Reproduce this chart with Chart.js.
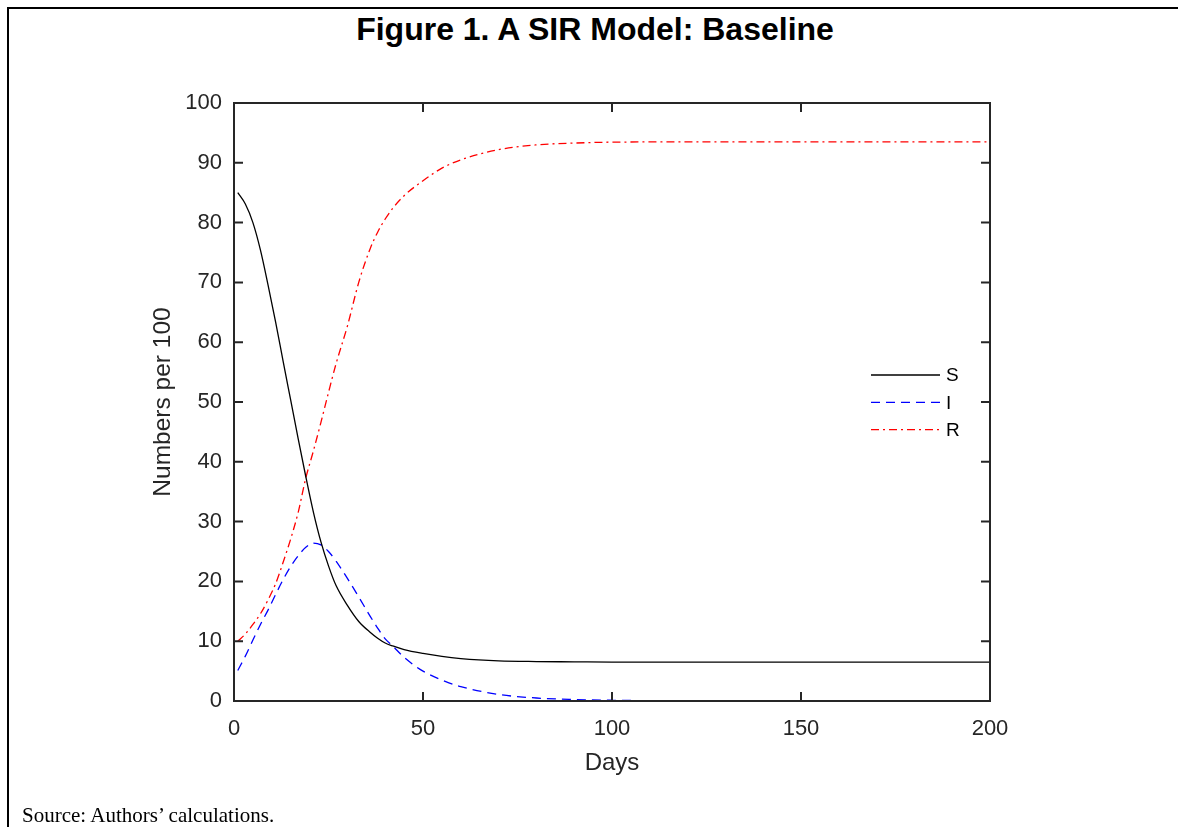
<!DOCTYPE html>
<html>
<head>
<meta charset="utf-8">
<script src="https://cdn.jsdelivr.net/npm/chart.js@4/dist/chart.umd.min.js"></script>
<style>
  html, body { margin: 0; padding: 0; background: #fff; }
  body { width: 1178px; height: 827px; position: relative; overflow: hidden; }
  #frameTop { position: absolute; left: 7px; top: 7px; width: 1171px; height: 2px; background: #000; }
  #frameLeft { position: absolute; left: 7px; top: 7px; width: 2px; height: 820px; background: #000; }
  #title { position: absolute; left: 0; top: 11px; width: 1190px; text-align: center;
           font: bold 32px Arial, "Liberation Sans", sans-serif; color: #000; }
  #source { position: absolute; left: 22px; top: 803px; font: 21px "Times New Roman", "Liberation Serif", serif; color: #000; }
  #wrap { position: absolute; left: 0; top: 0; width: 1178px; height: 827px; }
</style>
</head>
<body>
<div id="frameTop"></div>
<div id="frameLeft"></div>
<div id="title">Figure 1. A SIR Model: Baseline</div>
<div id="wrap"><canvas id="sir" width="1178" height="827"></canvas></div>
<div id="source">Source: Authors’ calculations.</div>

<script>
// values
const days = [1, 3, 5, 7, 9, 11, 13, 15, 17, 19, 21, 23, 25, 27, 30, 33, 36, 38, 40, 42, 45, 50, 55, 60, 70, 80, 90, 100, 120, 150, 200];
const susceptible = [85, 83.1, 80.0, 75.4, 69.6, 63.4, 56.8, 50.3, 43.8, 37.5, 31.6, 26.6, 22.6, 19.3, 16, 13.3, 11.5, 10.5, 9.7, 9.2, 8.6, 7.95, 7.45, 7.1, 6.72, 6.6, 6.55, 6.5, 6.5, 6.5, 6.5];
const infected = [5.1, 7.5, 10.2, 12.8, 15.2, 17.8, 20.3, 22.5, 24.3, 25.7, 26.4, 26.1, 25.0, 23.4, 20.5, 17.4, 14.2, 12.2, 10.4, 9.2, 7.3, 5.0, 3.5, 2.4, 1.1, 0.5, 0.25, 0.12, 0.03, 0, 0];
const recovered = [10, 11.2, 12.8, 14.6, 16.9, 19.6, 23.2, 27.1, 31.6, 37.3, 41.8, 46.6, 51.6, 56.4, 62.7, 70.0, 75.6, 78.4, 80.6, 82.4, 84.5, 87, 89.1, 90.5, 92.2, 93, 93.3, 93.45, 93.5, 93.5, 93.5];
const seriesNames = ["S", "I", "R"];
const xTicks = [0, 50, 100, 150, 200];

const axisColor = "#262626";
const font = 'Arial, "Liberation Sans", sans-serif';

function pts(vals) {
  return days.map((d, i) => ({ x: d, y: vals[i] }));
}

// MATLAB style box with inward ticks on all four sides
const boxPlugin = {
  id: "box",
  afterDatasetsDraw(chart) {
    const { ctx, chartArea: a, scales } = chart;
    const len = 9;
    ctx.save();
    ctx.strokeStyle = axisColor;
    ctx.lineWidth = 2;
    ctx.strokeRect(a.left, a.top, a.right - a.left, a.bottom - a.top);
    ctx.beginPath();
    scales.x.ticks.forEach(t => {
      const px = scales.x.getPixelForValue(t.value);
      ctx.moveTo(px, a.bottom); ctx.lineTo(px, a.bottom - len);
      ctx.moveTo(px, a.top); ctx.lineTo(px, a.top + len);
    });
    scales.y.ticks.forEach(t => {
      const py = scales.y.getPixelForValue(t.value);
      ctx.moveTo(a.left, py); ctx.lineTo(a.left + len, py);
      ctx.moveTo(a.right, py); ctx.lineTo(a.right - len, py);
    });
    ctx.stroke();
    ctx.restore();
  }
};

// legend drawn inside the axes, no box
const legendPlugin = {
  id: "inlineLegend",
  afterDatasetsDraw(chart) {
    const { ctx, chartArea: a } = chart;
    ctx.save();
    ctx.font = "19px " + font;
    ctx.textBaseline = "middle";
    ctx.fillStyle = "#000";
    chart.data.datasets.forEach((ds, i) => {
      const y = a.top + 272 + i * 27.3;
      ctx.strokeStyle = ds.borderColor;
      ctx.lineWidth = ds.borderWidth;
      ctx.setLineDash(ds.borderDash || []);
      ctx.beginPath();
      ctx.moveTo(a.right - 119, y);
      ctx.lineTo(a.right - 50, y);
      ctx.stroke();
      ctx.fillText(ds.label, a.right - 44, y + 1);
    });
    ctx.restore();
  }
};

new Chart(document.getElementById("sir"), {
  type: "line",
  data: {
    datasets: [
      { label: seriesNames[0], data: pts(susceptible), borderColor: "#000000", borderWidth: 1.3, borderDash: [] },
      { label: seriesNames[1], data: pts(infected), borderColor: "#0000ff", borderWidth: 1.3, borderDash: [9, 6] },
      { label: seriesNames[2], data: pts(recovered), borderColor: "#ff0000", borderWidth: 1.3, borderDash: [8, 4, 2, 4] }
    ]
  },
  options: {
    responsive: false,
    devicePixelRatio: 1,
    animation: false,
    elements: {
      point: { radius: 0 },
      line: { cubicInterpolationMode: "monotone", fill: false }
    },
    layout: { padding: { left: 140, right: 188, top: 103, bottom: 0 } },
    plugins: {
      legend: { display: false },
      tooltip: { enabled: false },
      title: { display: false }
    },
    scales: {
      x: {
        type: "linear",
        min: 0, max: 200,
        afterBuildTicks: s => { s.ticks = xTicks.map(v => ({ value: v })); },
        afterFit: s => { s.height = 126; },
        grid: { display: false },
        border: { display: false },
        ticks: { color: axisColor, font: { family: font, size: 22 }, padding: 7, maxRotation: 0 },
        title: { display: true, text: "Days", color: axisColor, font: { family: font, size: 24 }, padding: { top: 0, bottom: 49 } }
      },
      y: {
        min: 0, max: 100,
        afterFit: s => { s.width = 94; },
        grid: { display: false },
        border: { display: false },
        ticks: { stepSize: 10, color: axisColor, font: { family: font, size: 22 }, padding: 4 },
        title: { display: true, text: "Numbers per 100", color: axisColor, font: { family: font, size: 24.5 }, padding: { top: 9, bottom: 0 } }
      }
    }
  },
  plugins: [boxPlugin, legendPlugin]
});
</script>
</body>
</html>
